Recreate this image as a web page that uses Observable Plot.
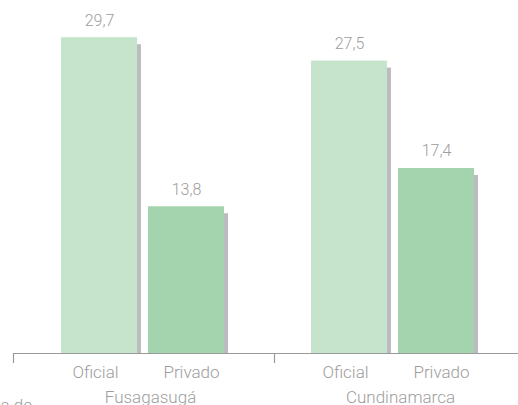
<!DOCTYPE html>
<html><head><meta charset="utf-8">
<script src="https://cdn.jsdelivr.net/npm/d3@7"></script>
<script src="https://cdn.jsdelivr.net/npm/@observablehq/plot@0.6"></script>
<style>
body{margin:0;background:#fff;}
#chart svg{font-family: Roboto, "Liberation Sans", sans-serif; font-weight:300;}
</style></head><body><div id="chart"></div>
<script>
const groups = ["Fusagasugá", "Cundinamarca"];
const sectors = ["Oficial", "Privado"];
const fusValues = [29.7, 13.8];
const cundValues = [27.5, 17.4];
const sectorColors = ["#c6e4cc", "#a3d4ae"];
const captionFragment = "a de";

const data = [
  ...sectors.map((s, i) => ({group: groups[0], sector: s, value: fusValues[i]})),
  ...sectors.map((s, i) => ({group: groups[1], sector: s, value: cundValues[i]}))
];
const fmt = v => v.toFixed(1).replace(".", ",");
const textColor = "#9d9d9d";
const font = "Roboto, 'Liberation Sans', sans-serif";

const chart = Plot.plot({
  width: 518, height: 405,
  marginTop: 0, marginBottom: 52, marginLeft: 18, marginRight: 0,
  style: {fontFamily: font, fontWeight: 300, color: textColor, background: "#fff"},
  fx: {domain: groups, padding: 0, label: null},
  x: {domain: sectors, paddingInner: 0.125, paddingOuter: 0.483, label: null},
  y: {domain: [0, 33.2], axis: null},
  color: {domain: sectors, range: sectorColors},
  marks: [
    Plot.ruleY([0], {stroke: "#9a9a9a", strokeWidth: 1.2, insetLeft: -5}),
    Plot.ruleX([{group: groups[0], sector: sectors[0]}], {fx: "group", x: "sector", y1: 0, y2: 0, insetBottom: -10, stroke: "#9a9a9a", strokeWidth: 1.2, dx: -86}),
    Plot.ruleX([{group: groups[1], sector: sectors[0]}], {fx: "group", x: "sector", y1: 0, y2: 0, insetBottom: -10, stroke: "#9a9a9a", strokeWidth: 1.2, dx: -75}),
    Plot.barY(data, {fx: "group", x: "sector", y: "value", fill: "#bcbcc0", dx: 4, insetTop: 7}),
    Plot.barY(data, {fx: "group", x: "sector", y: "value", fill: "sector"}),
    Plot.text(data, {fx: "group", x: "sector", y: "value", text: d => fmt(d.value), dy: -12, lineAnchor: "bottom", fontSize: 16, fill: textColor}),
    Plot.axisX({ticks: [sectors[0]], tickSize: 0, tickPadding: 12, fontSize: 17, dx: -4, label: null, fill: textColor}),
    Plot.axisX({ticks: [sectors[1]], tickSize: 0, tickPadding: 12, fontSize: 17, dx: 5, label: null, fill: textColor}),
    Plot.axisFx({anchor: "bottom", tickSize: 0, tickPadding: 37, fontSize: 17, dx: 7, label: null, fill: textColor}),
    Plot.text([{group: groups[0]}], {fx: "group", frameAnchor: "bottom-left", text: () => captionFragment, textAnchor: "start", dx: -18, dy: 57, fontSize: 17, fill: textColor})
  ]
});
document.getElementById("chart").append(chart);
</script></body></html>
